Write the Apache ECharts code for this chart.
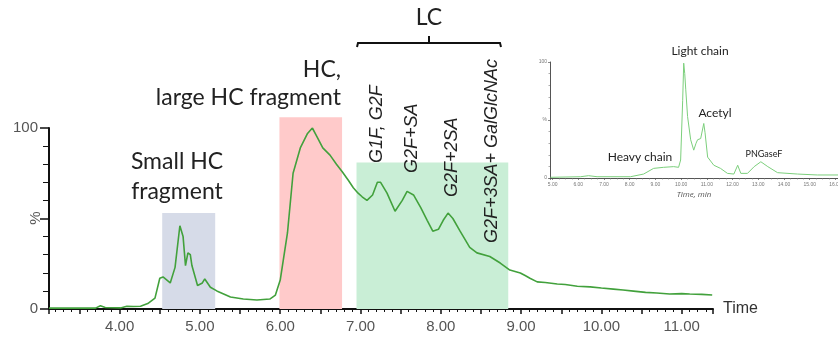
<!DOCTYPE html>
<html>
<head>
<meta charset="utf-8">
<script src="https://cdn.jsdelivr.net/npm/echarts@6/dist/echarts.min.js"></script>
<style>
  html, body { margin: 0; padding: 0; background: #fff; }
  #main { width: 838px; height: 341px; }
</style>
</head>
<body>
<div id="main"></div>
<script>
// main chromatogram (time in min, intensity in %)
const mainTime = [3.12, 3.38, 3.70, 3.76, 3.82, 4.01, 4.09, 4.17, 4.26, 4.35, 4.44, 4.50, 4.54, 4.63, 4.69, 4.75, 4.79, 4.82, 4.85, 4.88, 4.90, 4.97, 5.03, 5.06, 5.13, 5.21, 5.38, 5.54, 5.71, 5.87, 5.94, 6.00, 6.09, 6.16, 6.25, 6.34, 6.40, 6.46, 6.53, 6.62, 6.70, 6.77, 6.85, 6.91, 6.97, 7.02, 7.08, 7.15, 7.21, 7.25, 7.33, 7.43, 7.52, 7.58, 7.66, 7.75, 7.83, 7.90, 7.97, 8.03, 8.09, 8.15, 8.24, 8.36, 8.45, 8.61, 8.74, 8.86, 8.99, 9.05, 9.11, 9.20, 9.30, 9.45, 9.55, 9.70, 9.86, 10.00, 10.15, 10.27, 10.40, 10.55, 10.69, 10.85, 11.00, 11.10, 11.25, 11.38];
const mainPct = [0.5, 0.5, 0.5, 1.8, 0.8, 0.6, 1.5, 1.4, 1.5, 3, 6, 17, 17.7, 14.4, 23, 46, 40, 24, 31, 30, 24, 13, 14.4, 16.6, 12, 10, 6.6, 5.5, 5, 5.5, 7.7, 16, 42, 75, 89, 97, 100, 95, 89, 85, 80, 76, 71, 67, 64, 62, 60, 63, 70, 70, 64, 54, 60, 65, 63, 56, 49, 43, 44, 49, 53, 50, 43, 34, 31, 29, 25.4, 21.5, 19.9, 18.5, 17, 15, 14.6, 13.8, 13.5, 12.6, 12.2, 11.6, 11.0, 10.5, 9.9, 9.2, 8.8, 8.3, 8.5, 8.3, 8.1, 7.7];

// shaded fractions
const regionStart = [4.53, 5.99, 6.95];
const regionEnd = [5.19, 6.77, 8.84];
const regionTop = [53, 106, 81];

// inset chromatogram
const insetTime = [4.92, 6.09, 6.40, 6.73, 8.03, 8.54, 8.93, 9.32, 9.71, 9.90, 9.98, 10.06, 10.10, 10.14, 10.18, 10.25, 10.37, 10.49, 10.58, 10.64, 10.76, 10.88, 10.93, 11.03, 11.27, 11.53, 11.80, 12.05, 12.20, 12.32, 12.58, 12.84, 13.10, 13.37, 13.75, 14.53, 15.30, 16.10];
const insetPct = [0.6, 1.1, 2, 1.1, 1.1, 3.4, 8.3, 9.2, 9.8, 9.2, 15.5, 67, 99, 90, 76, 53, 33, 24, 30, 33, 34, 47, 39, 18, 11, 8.3, 4, 3.4, 11, 4, 4, 9.8, 14, 9.8, 4.6, 3.4, 2.6, 2.6];

const regionColors = ['#d6dbe8', '#ffcaca', '#c9eed6'];

const chart = echarts.init(document.getElementById('main'));

const axisFont = 'Liberation Sans';
const xMin = 3.12, xMax = 11.39;
// px per % on the main axis is 181/100; the shading axis reaches higher so the pink box is not clamped
const shadeTop = 100, shadeMax = (341 - 32 - shadeTop) / 1.81;

const intLabel = v => (Math.abs(v - Math.round(v)) < 1e-6 ? v.toFixed(2) : '');

function label(text, x, y, font, align, extra) {
  return Object.assign({
    type: 'text', x: x, y: y, z: 20, silent: true,
    style: { text: text, font: font, fill: '#222', align: align || 'center', verticalAlign: 'middle' }
  }, extra || {});
}

const option = {
  animation: false,
  grid: [
    { left: 49, right: 125, top: 128, bottom: 32, outerBoundsMode: 'none', containLabel: false },
    { left: 550, right: 0, top: 62, bottom: 163, outerBoundsMode: 'none', containLabel: false },
    { left: 49, right: 125, top: shadeTop, bottom: 32, outerBoundsMode: 'none', containLabel: false }
  ],
  xAxis: [
    {
      type: 'value', gridIndex: 0, min: xMin, max: xMax, splitNumber: 16,
      name: 'Time', nameLocation: 'end', nameGap: 10,
      nameTextStyle: { fontFamily: axisFont, fontSize: 16, color: '#333', verticalAlign: 'middle' },
      axisLine: { lineStyle: { color: '#111', width: 2 } },
      axisTick: { length: 5, lineStyle: { color: '#111', width: 1.5 } },
      minorTick: { show: true, splitNumber: 5, length: 3, lineStyle: { color: '#111', width: 1 } },
      splitLine: { show: false },
      axisLabel: {
        showMinLabel: false, showMaxLabel: false, margin: 10,
        fontFamily: axisFont, fontSize: 15, color: '#555', formatter: intLabel
      }
    },
    {
      type: 'value', gridIndex: 1, min: 4.9, max: 16.1, splitNumber: 11,
      name: 'Time, min', nameLocation: 'middle', nameGap: 13,
      nameTextStyle: { fontFamily: 'Open Sans', fontStyle: 'italic', fontSize: 8, color: '#555' },
      axisLine: { lineStyle: { color: '#555', width: 1 } },
      axisTick: { length: 2, lineStyle: { color: '#555', width: 0.7 } },
      minorTick: { show: true, splitNumber: 4, length: 1.5, lineStyle: { color: '#777', width: 0.6 } },
      splitLine: { show: false },
      axisLabel: {
        showMinLabel: false, showMaxLabel: false, margin: 4,
        fontFamily: axisFont, fontSize: 5, color: '#777', formatter: intLabel
      }
    },
    { type: 'value', gridIndex: 2, min: xMin, max: xMax, show: false }
  ],
  yAxis: [
    {
      type: 'value', gridIndex: 0, min: 0, max: 100, interval: 50,
      axisLine: { show: true, lineStyle: { color: '#111', width: 2 } },
      axisTick: { show: true, length: 9, lineStyle: { color: '#111', width: 1.5 } },
      minorTick: { show: true, splitNumber: 5, length: 6, lineStyle: { color: '#111', width: 1 } },
      splitLine: { show: false },
      axisLabel: {
        margin: 11, fontFamily: axisFont, fontSize: 15, color: '#555',
        formatter: v => (v === 50 ? '' : String(v))
      }
    },
    {
      type: 'value', gridIndex: 1, min: 0, max: 100, interval: 50,
      axisLine: { show: true, lineStyle: { color: '#555', width: 1 } },
      axisTick: { show: true, length: 2, lineStyle: { color: '#555', width: 0.7 } },
      minorTick: { show: true, splitNumber: 5, length: 1.5, lineStyle: { color: '#777', width: 0.6 } },
      splitLine: { show: false },
      axisLabel: {
        margin: 3, fontFamily: axisFont, fontSize: 5, color: '#777',
        formatter: v => (v === 50 ? '%' : String(v))
      }
    },
    { type: 'value', gridIndex: 2, min: 0, max: shadeMax, show: false }
  ],
  series: [
    {
      // shading boxes on their own (taller) axis pair
      type: 'line', xAxisIndex: 2, yAxisIndex: 2, data: [], z: 1,
      markArea: {
        silent: true,
        data: regionStart.map((s, i) => [
          { xAxis: s, yAxis: 0, itemStyle: { color: regionColors[i], opacity: 1 } },
          { xAxis: regionEnd[i], yAxis: regionTop[i] }
        ])
      }
    },
    {
      type: 'line', xAxisIndex: 0, yAxisIndex: 0,
      symbol: 'none',
      lineStyle: { color: '#42a13c', width: 1.6 },
      data: mainTime.map((t, i) => [t, mainPct[i]]),
      z: 5
    },
    {
      type: 'line', xAxisIndex: 1, yAxisIndex: 1,
      symbol: 'none',
      lineStyle: { color: '#7ccf7c', width: 1 },
      data: insetTime.map((t, i) => [t, insetPct[i]])
    }
  ],
  graphic: [
    // LC bracket
    {
      type: 'polyline', silent: true, z: 20,
      shape: { points: [[357, 47], [358, 43], [500, 43], [501, 47]] },
      style: { stroke: '#111', lineWidth: 2, fill: null }
    },
    {
      type: 'line', silent: true, z: 20,
      shape: { x1: 429, y1: 36, x2: 429, y2: 43 },
      style: { stroke: '#111', lineWidth: 2 }
    },
    label('%', 36, 218, '15px "Liberation Sans"', 'center', { rotation: Math.PI / 2, style: { text: '%', font: '15px "Liberation Sans"', fill: '#555', align: 'center', verticalAlign: 'middle' } }),
    label('LC', 429, 18, '23px Lato'),
    label('HC,', 341, 70, '23px Lato', 'right'),
    label('large HC fragment', 341, 98, '23px Lato', 'right'),
    label('Small HC', 177, 162, '23px Lato'),
    label('fragment', 177, 192, '23px Lato'),
    // glycoform labels, reading bottom to top
    label('G1F, G2F', 377, 163, 'italic 18px "Liberation Sans"', 'left', { rotation: Math.PI / 2 }),
    label('G2F+SA', 412, 173, 'italic 18px "Liberation Sans"', 'left', { rotation: Math.PI / 2 }),
    label('G2F+2SA', 452, 197, 'italic 18px "Liberation Sans"', 'left', { rotation: Math.PI / 2 }),
    label('G2F+3SA+ GalGlcNAc', 492, 243, 'italic 18px "Liberation Sans"', 'left', { rotation: Math.PI / 2 }),
    // inset annotations
    label('Light chain', 700, 51, '12px Lato'),
    label('Acetyl', 715, 113, '12px Lato'),
    label('Heavy chain', 640, 157, '12px Lato'),
    label('PNGaseF', 764, 154, '9px Lato')
  ]
};

chart.setOption(option);
</script>
</body>
</html>
